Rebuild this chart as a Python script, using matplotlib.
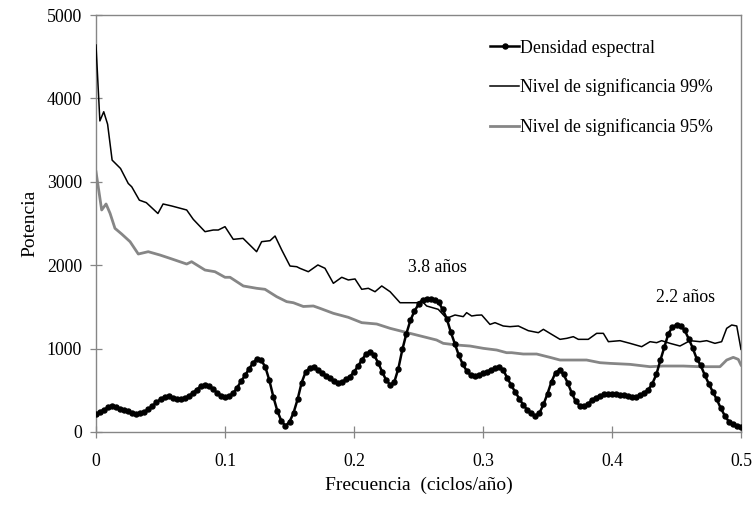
import matplotlib
matplotlib.use("Agg")
import matplotlib.pyplot as plt
from matplotlib.ticker import FixedLocator, FuncFormatter

# Spectral density on a regular frequency grid (step 1/320 cycles/year)
freq_step = 0.003125
densidad = [
    212, 244, 266, 294, 310, 298, 274, 266, 248, 230,
    218, 222, 240, 272, 312, 356, 392, 420, 432, 410,
    390, 392, 410, 428, 466, 508, 548, 566, 550, 516,
    472, 436, 424, 430, 464, 530, 610, 680, 760, 830,
    880, 860, 780, 620, 420, 250, 130, 74, 120, 230,
    390, 590, 720, 765, 776, 748, 710, 676, 644, 612,
    592, 598, 630, 664, 720, 790, 868, 936, 962, 920,
    830, 720, 620, 566, 600, 760, 990, 1180, 1340, 1450,
    1530, 1580, 1600, 1600, 1584, 1556, 1470, 1360, 1200, 1060,
    920, 810, 730, 680, 668, 684, 702, 724, 744, 764,
    776, 744, 650, 560, 480, 400, 324, 264, 222, 194,
    228, 330, 460, 604, 712, 742, 690, 590, 470, 366,
    316, 310, 334, 380, 412, 432, 450, 456, 454, 452,
    446, 438, 430, 424, 424, 440, 472, 506, 580, 690,
    860, 1020, 1180, 1260, 1284, 1270, 1224, 1120, 1010, 880,
    800, 684, 580, 482, 390, 284, 194, 124, 92, 72,
    56,
]
frecuencia = [i * freq_step for i in range(len(densidad))]

# 99 % significance level
f99 = [0.0, 0.003, 0.006, 0.009, 0.0125, 0.019, 0.025, 0.0277, 0.0336, 0.039,
       0.048, 0.052, 0.0587, 0.0703, 0.0754, 0.0845, 0.0909, 0.0948, 0.1, 0.1064,
       0.114, 0.1245, 0.1284, 0.1349, 0.1388, 0.144, 0.1504, 0.1556, 0.158, 0.1646,
       0.172, 0.1775, 0.184, 0.1905, 0.1956, 0.2008, 0.206, 0.2111, 0.2163, 0.2215,
       0.228, 0.2357, 0.2486, 0.2524, 0.2563, 0.2653, 0.2718, 0.2783, 0.2847, 0.2873,
       0.2912, 0.2951, 0.299, 0.3054, 0.3093, 0.3157, 0.3209, 0.3274, 0.3351, 0.3429,
       0.3468, 0.3519, 0.3597, 0.3649, 0.37, 0.3739, 0.3816, 0.3881, 0.3933, 0.3972,
       0.4062, 0.414, 0.423, 0.4295, 0.4346, 0.4385, 0.445, 0.4527, 0.4605, 0.4682,
       0.4734, 0.4798, 0.485, 0.4889, 0.4928, 0.4967, 0.5]
n99 = [4640, 3730, 3840, 3690, 3260, 3160, 2980, 2940, 2780, 2750,
       2620, 2734, 2710, 2662, 2550, 2402, 2422, 2422, 2462, 2310,
       2322, 2162, 2282, 2294, 2350, 2182, 1990, 1982, 1963, 1922,
       2003, 1963, 1783, 1855, 1823, 1835, 1711, 1723, 1682, 1751,
       1682, 1550, 1550, 1574, 1511, 1471, 1363, 1403, 1383, 1431,
       1391, 1400, 1403, 1290, 1311, 1271, 1263, 1271, 1215, 1191,
       1231, 1183, 1111, 1123, 1143, 1111, 1111, 1183, 1183, 1083,
       1095, 1063, 1023, 1083, 1071, 1095, 1063, 1031, 1095, 1083,
       1095, 1063, 1083, 1243, 1283, 1271, 991]

# 95 % significance level
f95 = [0.0, 0.0044, 0.0078, 0.0109, 0.0147, 0.0199, 0.0264, 0.0328, 0.0405, 0.0496,
       0.0574, 0.0703, 0.0741, 0.0845, 0.0922, 0.1, 0.1039, 0.1142, 0.1245, 0.131,
       0.14, 0.1478, 0.153, 0.1607, 0.1685, 0.1736, 0.184, 0.1956, 0.206, 0.2176,
       0.228, 0.2382, 0.2537, 0.264, 0.2692, 0.2796, 0.2899, 0.3003, 0.3106, 0.3183,
       0.3222, 0.3312, 0.3416, 0.3519, 0.3597, 0.37, 0.3803, 0.3907, 0.3984, 0.414,
       0.4295, 0.4398, 0.4553, 0.4682, 0.4837, 0.4889, 0.494, 0.4979, 0.5]
n95 = [3120, 2662, 2734, 2622, 2442, 2374, 2282, 2134, 2162, 2122,
       2082, 2014, 2042, 1942, 1922, 1855, 1855, 1751, 1723, 1711,
       1623, 1563, 1550, 1505, 1511, 1483, 1423, 1375, 1311, 1295,
       1243, 1203, 1143, 1103, 1063, 1043, 1031, 1003, 983, 951,
       951, 935, 935, 895, 863, 863, 863, 831, 823, 811,
       783, 791, 791, 783, 783, 863, 895, 871, 803]

x_ticks = [0, 0.1, 0.2, 0.3, 0.4, 0.5]
y_ticks = [0, 1000, 2000, 3000, 4000, 5000]
series_labels = ["Densidad espectral", "Nivel de significancia 99%", "Nivel de significancia 95%"]
peak_labels = ["3.8 años", "2.2 años"]
peak_pos = [(0.2643, 1968), (0.457, 1608)]

plt.rcParams["font.family"] = ["Liberation Serif", "DejaVu Serif"]
GREY = "#868686"

fig = plt.figure(figsize=(7.54, 5.08), dpi=100)
ax = fig.add_axes([96 / 754, 1 - 432 / 508, 645 / 754, 417 / 508])

ax.plot(frecuencia, densidad, color="black", lw=1.8, marker="o", ms=3.6,
        label=series_labels[0], zorder=4)
ax.plot(f99, n99, color="black", lw=1.1, label=series_labels[1], zorder=3)
ax.plot(f95, n95, color=GREY, lw=2.0, label=series_labels[2], zorder=2)

ax.set_xlim(0, 0.5)
ax.set_ylim(0, 5000)
ax.xaxis.set_major_locator(FixedLocator(x_ticks))
ax.yaxis.set_major_locator(FixedLocator(y_ticks))
ax.xaxis.set_major_formatter(FuncFormatter(lambda v, p: "0" if v == 0 else f"{v:g}"))
ax.yaxis.set_major_formatter(FuncFormatter(lambda v, p: f"{int(v)}"))
ax.tick_params(direction="inout", length=9, width=0.9, color=GREY,
               labelsize=12.8)
ax.tick_params(axis="x", pad=10.5)
ax.tick_params(axis="y", pad=5.5)
for s in ax.spines.values():
    s.set_color(GREY)
    s.set_linewidth(1.0)

ax.set_xlabel("Frecuencia  (ciclos/año)", fontsize=14, labelpad=5)
ax.set_ylabel("Potencia", fontsize=14, labelpad=6)

for txt, (xv, yv) in zip(peak_labels, peak_pos):
    ax.text(xv, yv, txt, ha="center", va="center", fontsize=12.8)

leg = ax.legend(loc="upper left", bbox_to_anchor=(0.600, 0.958), frameon=False,
                fontsize=12.8, handlelength=1.65, handletextpad=0.05,
                labelspacing=1.22, borderaxespad=0)

fig.savefig("out.png", dpi=100)
